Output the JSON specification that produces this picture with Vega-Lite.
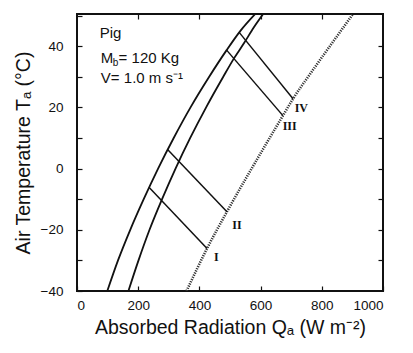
{
  "$schema": "https://vega.github.io/schema/vega-lite/v6.json",
  "width": 306,
  "height": 277,
  "autosize": "none",
  "padding": {"left": 77, "top": 14, "right": 30, "bottom": 62},
  "background": "white",
  "config": {
    "view": {"stroke": "#111", "strokeWidth": 2},
    "axis": {
      "domain": false, "grid": false,
      "tickColor": "#111", "tickWidth": 1.2, "tickSize": -5,
      "labelColor": "#111", "titleColor": "#111",
      "labelFont": "Liberation Sans", "titleFont": "Liberation Sans",
      "labelFontSize": 13.5, "titleFontSize": 19.5, "titleFontWeight": "normal"
    }
  },
  "datasets": {
    "curves": [
      {"s": "A", "x": 99, "y": -40}, {"s": "A", "x": 134, "y": -30}, {"s": "A", "x": 174, "y": -20},
      {"s": "A", "x": 218, "y": -10}, {"s": "A", "x": 265, "y": 0}, {"s": "A", "x": 316, "y": 10},
      {"s": "A", "x": 371, "y": 20}, {"s": "A", "x": 432, "y": 30}, {"s": "A", "x": 489, "y": 38.7},
      {"s": "A", "x": 534, "y": 45}, {"s": "A", "x": 587, "y": 51},
      {"s": "B", "x": 168, "y": -40}, {"s": "B", "x": 201, "y": -30}, {"s": "B", "x": 237, "y": -20},
      {"s": "B", "x": 278, "y": -10}, {"s": "B", "x": 322, "y": 0}, {"s": "B", "x": 370, "y": 10},
      {"s": "B", "x": 422, "y": 20}, {"s": "B", "x": 478, "y": 30}, {"s": "B", "x": 513, "y": 36},
      {"s": "B", "x": 546, "y": 41}, {"s": "B", "x": 577, "y": 46}, {"s": "B", "x": 612, "y": 51}
    ],
    "dotted": [
      {"x": 358, "y": -40}, {"x": 425, "y": -26.1}, {"x": 490, "y": -14.1},
      {"x": 613, "y": 7.2}, {"x": 673, "y": 17.3}, {"x": 706, "y": 22.8},
      {"x": 766, "y": 31.5}, {"x": 830, "y": 40.5}, {"x": 902, "y": 50.5}
    ],
    "connectors": [
      {"id": "I", "x": 236, "y": -6.2}, {"id": "I", "x": 425, "y": -26.1},
      {"id": "II", "x": 296, "y": 6.2}, {"id": "II", "x": 490, "y": -14.1},
      {"id": "III", "x": 489, "y": 38.7}, {"id": "III", "x": 673, "y": 17.3},
      {"id": "IV", "x": 530, "y": 44.5}, {"id": "IV", "x": 706, "y": 22.8}
    ],
    "numerals": [
      {"t": "I", "x": 455, "y": -28.9}, {"t": "II", "x": 523, "y": -18.5},
      {"t": "III", "x": 695, "y": 13.8}, {"t": "IV", "x": 733, "y": 19.8}
    ],
    "notes": [
      {"t": "Pig", "x": 74, "y": 44.2},
      {"t": "M", "x": 78, "y": 36.2},
      {"t": "= 120 Kg", "x": 136, "y": 36.2},
      {"t": "V= 1.0 m s⁻¹", "x": 78, "y": 29.6}
    ],
    "subs": [
      {"t": "b", "x": 117, "y": 34.4}
    ]
  },
  "layer": [
    {
      "data": {"name": "curves"},
      "mark": {"type": "line", "color": "#111", "strokeWidth": 1.8, "clip": true, "interpolate": "monotone"},
      "encoding": {
        "x": {"field": "x", "type": "quantitative", "scale": {"domain": [0, 1000], "nice": false},
          "axis": {"orient": "bottom", "values": [0, 200, 400, 600, 800, 1000], "format": "d", "labelPadding": 12, "title": "Absorbed Radiation Qₐ (W m⁻²)", "titlePadding": 7}},
        "y": {"field": "y", "type": "quantitative", "scale": {"domain": [-40, 50.5], "nice": false, "zero": false},
          "axis": {"orient": "left", "values": [-40, -30, -20, -10, 0, 10, 20, 30, 40, 50], "labelExpr": "datum.value % 20 == 0 ? datum.label : ''", "labelPadding": 19, "title": "Air Temperature Tₐ (°C)", "titlePadding": 7}},
        "detail": {"field": "s"}
      }
    },
    {
      "data": {"name": "dotted"},
      "mark": {"type": "line", "color": "#333", "strokeWidth": 2.6, "strokeDash": [1.2, 1.2], "clip": true, "interpolate": "monotone"},
      "encoding": {
        "x": {"field": "x", "type": "quantitative", "scale": {"domain": [0, 1000], "nice": false},
          "axis": {"orient": "top", "values": [200, 400, 600, 800], "labels": false, "title": null}},
        "y": {"field": "y", "type": "quantitative", "scale": {"domain": [-40, 50.5], "nice": false, "zero": false},
          "axis": {"orient": "right", "values": [-30, -20, -10, 0, 10, 20, 30, 40], "labels": false, "title": null}}
      }
    },
    {
      "data": {"name": "connectors"},
      "mark": {"type": "line", "color": "#111", "strokeWidth": 1.5},
      "encoding": {
        "x": {"field": "x", "type": "quantitative", "scale": {"domain": [0, 1000], "nice": false}, "axis": null},
        "y": {"field": "y", "type": "quantitative", "scale": {"domain": [-40, 50.5], "nice": false, "zero": false}, "axis": null},
        "detail": {"field": "id"}
      }
    },
    {
      "data": {"name": "numerals"},
      "mark": {"type": "text", "font": "Liberation Serif", "fontSize": 12, "fontWeight": "bold", "align": "center", "baseline": "middle", "color": "#111"},
      "encoding": {
        "x": {"field": "x", "type": "quantitative", "scale": {"domain": [0, 1000], "nice": false}, "axis": null},
        "y": {"field": "y", "type": "quantitative", "scale": {"domain": [-40, 50.5], "nice": false, "zero": false}, "axis": null},
        "text": {"field": "t"}
      }
    },
    {
      "data": {"name": "notes"},
      "mark": {"type": "text", "font": "Liberation Sans", "fontSize": 15, "align": "left", "baseline": "middle", "color": "#111"},
      "encoding": {
        "x": {"field": "x", "type": "quantitative", "scale": {"domain": [0, 1000], "nice": false}, "axis": null},
        "y": {"field": "y", "type": "quantitative", "scale": {"domain": [-40, 50.5], "nice": false, "zero": false}, "axis": null},
        "text": {"field": "t"}
      }
    },
    {
      "data": {"name": "subs"},
      "mark": {"type": "text", "font": "Liberation Sans", "fontSize": 10, "align": "left", "baseline": "middle", "color": "#111"},
      "encoding": {
        "x": {"field": "x", "type": "quantitative", "scale": {"domain": [0, 1000], "nice": false}, "axis": null},
        "y": {"field": "y", "type": "quantitative", "scale": {"domain": [-40, 50.5], "nice": false, "zero": false}, "axis": null},
        "text": {"field": "t"}
      }
    }
  ],
  "resolve": {"axis": {"x": "independent", "y": "independent"}}
}
